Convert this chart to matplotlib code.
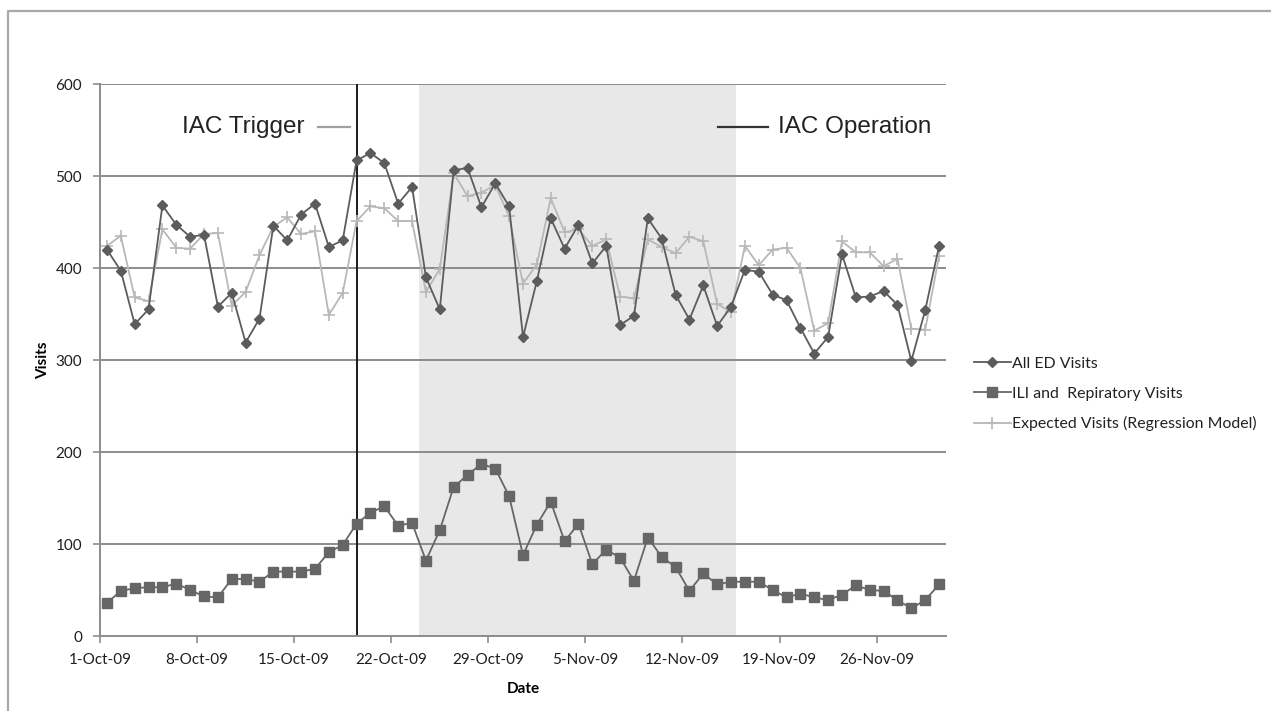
import matplotlib
matplotlib.use("Agg")
import matplotlib.pyplot as plt
from matplotlib.lines import Line2D
import pandas as pd

# ---------------- data ----------------
start_date = "2009-10-01"
n_days = 61
all_ed = [420, 397, 339, 355, 468, 447, 434, 436, 358, 373,
          319, 345, 446, 430, 458, 470, 423, 430, 517, 525,
          514, 470, 488, 390, 355, 506, 509, 466, 492, 467,
          325, 386, 454, 421, 447, 405, 424, 338, 348, 454,
          432, 371, 344, 381, 337, 358, 398, 396, 371, 365,
          335, 307, 325, 415, 368, 369, 375, 360, 299, 354, 424]
expected = [424, 435, 368, 364, 442, 422, 421, 437, 438, 359,
            374, 414, 445, 455, 437, 440, 349, 373, 451, 467,
            465, 451, 451, 374, 399, 503, 478, 482, 490, 456,
            383, 404, 476, 439, 442, 424, 431, 369, 367, 431,
            423, 416, 434, 429, 361, 352, 424, 403, 420, 422,
            400, 332, 340, 429, 417, 417, 402, 410, 334, 333, 413]
ili = [36, 49, 52, 53, 53, 57, 50, 43, 42, 62,
       62, 59, 70, 70, 70, 73, 91, 99, 122, 134,
       141, 120, 123, 82, 115, 162, 175, 187, 182, 152,
       88, 121, 146, 103, 122, 78, 94, 85, 60, 107,
       86, 75, 49, 68, 56, 59, 59, 59, 50, 42,
       46, 42, 39, 45, 55, 50, 49, 39, 30, 39, 56]
series_labels = ["All ED Visits", "ILI and  Repiratory Visits",
                 "Expected Visits (Regression Model)"]
trigger_date = "2009-10-19 12:00"
operation_start = "2009-10-24"
operation_end = "2009-11-15 20:00"
y_ticks = [0, 100, 200, 300, 400, 500, 600]

dates = pd.date_range(start_date, periods=n_days, freq="D")
xpts = dates + pd.Timedelta(hours=12)

# ---------------- figure ----------------
fig = plt.figure(figsize=(12.71, 7.11), dpi=100)
ax = fig.add_axes([100 / 1271, 1 - 636 / 711, 846 / 1271, 552 / 711])

font = "Lato"
grid_c = "#8c8c8c"

ax.axvspan(pd.Timestamp(operation_start), pd.Timestamp(operation_end),
           color="#e8e8e8", zorder=0, lw=0)
for yv in y_ticks[1:]:
    ax.axhline(yv, color=grid_c, lw=1.4, zorder=1)

ax.axvline(pd.Timestamp(trigger_date), color="#1a1a1a", lw=1.4, zorder=2)

ax.plot(xpts, expected, color="#b8b8b8", lw=1.3, marker="+", ms=9, mew=1.2,
        zorder=3, label=series_labels[2])
ax.plot(xpts, all_ed, color="#5c5c5c", lw=1.3, marker="D", ms=5.5,
        zorder=4, label=series_labels[0])
ax.plot(xpts, ili, color="#666666", lw=1.3, marker="s", ms=7,
        zorder=4, label=series_labels[1])

ax.set_xlim(pd.Timestamp(start_date), pd.Timestamp(start_date) + pd.Timedelta(days=n_days))
ax.set_ylim(0, 600)
ax.set_yticks(y_ticks)
ticks = [pd.Timestamp(start_date) + pd.Timedelta(days=7 * k) for k in range(9)]
ax.set_xticks(ticks)
ax.set_xticklabels([f"{t.day}-{t.strftime('%b')}-{t.strftime('%y')}" for t in ticks])

for s in ["top", "right"]:
    ax.spines[s].set_visible(False)
for s in ["left", "bottom"]:
    ax.spines[s].set_color(grid_c)
    ax.spines[s].set_linewidth(1.4)
ax.tick_params(axis="both", colors=grid_c, length=5, width=1.2, direction="out",
               labelcolor="#1e1e1e", labelsize=11)
ax.tick_params(axis="x", pad=7)
ax.tick_params(axis="y", pad=8)
for lab in ax.get_xticklabels() + ax.get_yticklabels():
    lab.set_fontfamily(font)

ax.set_xlabel("Date", fontfamily=font, fontweight="bold", fontsize=11, labelpad=11)
ax.set_ylabel("Visits", fontfamily=font, fontweight="bold", fontsize=11, labelpad=4)

# annotations
ax.text(0.2423, 0.922, "IAC Trigger", transform=ax.transAxes, ha="right", va="center",
        fontsize=17.5, fontfamily="Liberation Sans", color="#222222")
ax.plot([0.2577, 0.2955], [0.922, 0.922], transform=ax.transAxes, color="#a0a0a0", lw=1.6)
ax.plot([0.7305, 0.7896], [0.922, 0.922], transform=ax.transAxes, color="#333333", lw=1.6)
ax.text(0.8014, 0.922, "IAC Operation", transform=ax.transAxes, ha="left", va="center",
        fontsize=17.5, fontfamily="Liberation Sans", color="#222222")

# legend
handles = [
    Line2D([], [], color="#5c5c5c", lw=1.3, marker="D", ms=5),
    Line2D([], [], color="#666666", lw=1.3, marker="s", ms=6.5),
    Line2D([], [], color="#b8b8b8", lw=1.3, marker="+", ms=9, mew=1.2),
]
leg = fig.legend(handles, [series_labels[0], series_labels[1], series_labels[2]],
                 loc="center left", bbox_to_anchor=(960 / 1271, 1 - 394 / 711),
                 frameon=False, prop={"family": font, "size": 11.4},
                 handlelength=2.3, handletextpad=0.1, labelspacing=1.0)
for t in leg.get_texts():
    t.set_color("#222222")

# outer frame (top and left edges)
fig.add_artist(Line2D([8 / 1271, 8 / 1271, 1.0], [0.0, 1 - 11 / 711, 1 - 11 / 711],
                      transform=fig.transFigure, color="#a8a8a8", lw=1.6))

fig.savefig("out.png", dpi=100)
